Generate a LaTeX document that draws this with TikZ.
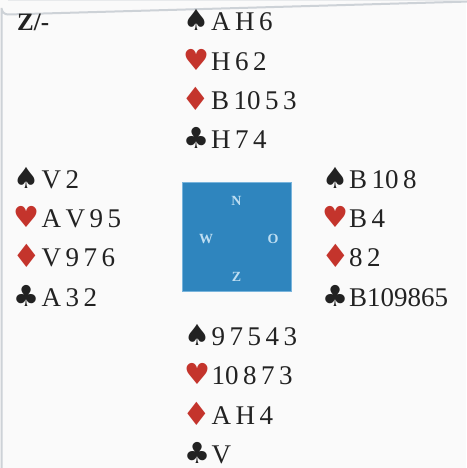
\documentclass[tikz,border=0pt]{standalone}
\usepackage{fontspec}
\setmainfont{Liberation Serif}
\newfontfamily\suitfont{DejaVu Sans}
\definecolor{bg}{RGB}{250,250,250}
\definecolor{frame}{RGB}{205,210,215}
\definecolor{ink}{RGB}{34,34,34}
\definecolor{suitred}{RGB}{196,52,44}
\definecolor{boxblue}{RGB}{47,133,190}
\definecolor{boxedge}{RGB}{120,180,220}
\definecolor{boxtext}{RGB}{190,222,242}
\tikzset{
  cards/.style={anchor=base west, inner sep=0pt, text=ink, font=\fontsize{27}{27}\selectfont},
  suitsym/.style={anchor=base, inner sep=0pt, font=\suitfont\fontsize{29}{29}\selectfont},
  blk/.style={suitsym, text=ink},
  rd/.style={suitsym, text=suitred},
  rdw/.style={rd, font=\suitfont\fontsize{32}{32}\selectfont},
  dir/.style={inner sep=0pt, text=boxtext, font=\bfseries\fontsize{14}{14}\selectfont},
}
\begin{document}
\begin{tikzpicture}[x=1pt,y=-1pt]
\useasboundingbox (0,0) rectangle (466,468);
\fill[bg] (0,0) rectangle (466,468);
\draw[frame, line width=2pt] (1.5,470) -- (1.5,8) arc[start angle=180, end angle=90, radius=6.5] -- (470,1.5);
\draw[frame!40!bg, line width=1pt] (8,1) -- (470,1);
% dealer / vulnerability
\node[cards, font=\bfseries\fontsize{25}{25}\selectfont] (info) at (17,31) {Z/-};
% North
\node[blk] (ns) at (196,31.0) {♠};  \node[cards] (nst) at (211,31.0) {A\,H\,6};
\node[rd]  (nh) at (196,70.3) {♥};  \node[cards] (nht) at (211,70.3) {H\,6\,2};
\node[rdw] (nd) at (196,110.6) {♦}; \node[cards] (ndt) at (211,109.6) {B\,10\,5\,3};
\node[blk] (nc) at (196,148.9) {♣}; \node[cards] (nct) at (211,148.9) {H\,7\,4};
% West
\node[blk] (ws) at (26.5,188.2) {♠};  \node[cards] (wst) at (41.5,188.2) {V\,2};
\node[rd]  (wh) at (26.5,227.5) {♥};  \node[cards] (wht) at (41.5,227.5) {A\,V\,9\,5};
\node[rdw] (wd) at (26.5,267.8) {♦};  \node[cards] (wdt) at (41.5,266.8) {V\,9\,7\,6};
\node[blk] (wc) at (26.5,306.1) {♣};  \node[cards] (wct) at (41.5,306.1) {A\,3\,2};
% East
\node[blk] (es) at (335.5,188.2) {♠}; \node[cards] (est) at (349,188.2) {B\,10\,8};
\node[rd]  (eh) at (335.5,227.5) {♥}; \node[cards] (eht) at (349,227.5) {B\,4};
\node[rdw] (ed) at (335.5,267.8) {♦}; \node[cards] (edt) at (349,266.8) {8\,2};
\node[blk] (ec) at (335.5,306.1) {♣}; \node[cards] (ect) at (349,306.1) {B109865};
% South
\node[blk] (ss) at (197,345.4) {♠}; \node[cards] (sst) at (211.5,345.4) {9\,7\,5\,4\,3};
\node[rd]  (sh) at (197,384.7) {♥}; \node[cards] (sht) at (211.5,384.7) {10\,8\,7\,3};
\node[rdw] (sd) at (197,425.0) {♦}; \node[cards] (sdt) at (211.5,424.0) {A\,H\,4};
\node[blk] (sc) at (197,463.3) {♣}; \node[cards] (sct) at (211.5,463.3) {V};
% compass
\node[draw=boxedge, line width=1pt, fill=boxblue, minimum width=109pt, minimum height=109pt, inner sep=0pt] (box) at (236.5,237) {};
\node[dir] (dn) at (236.5,201) {N};
\node[dir] (dw) at (206,239) {W};
\node[dir] (de) at (273,239) {O};
\node[dir] (dz) at (236.5,277) {Z};
\end{tikzpicture}
\end{document}
